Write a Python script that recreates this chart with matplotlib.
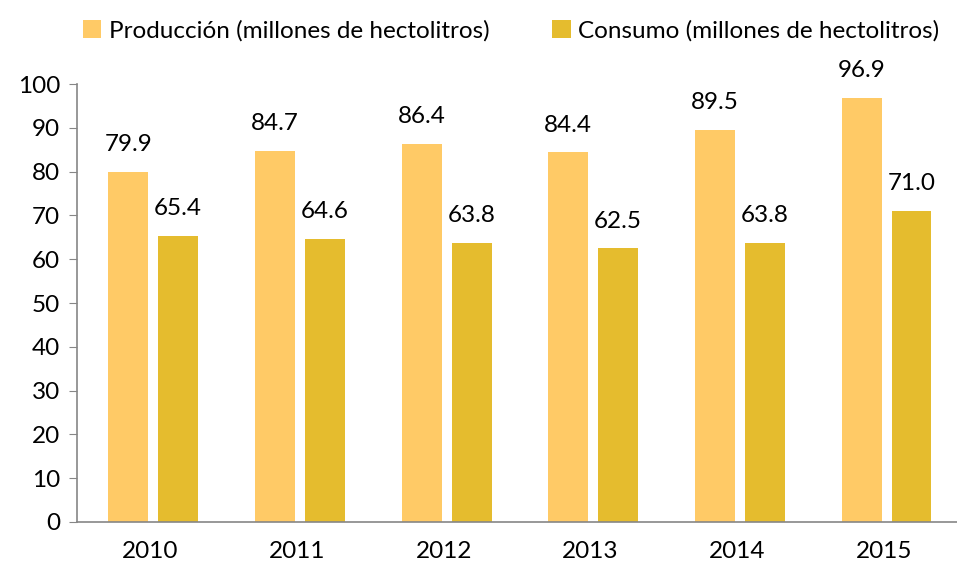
import numpy as np
import matplotlib
matplotlib.use('Agg')
import matplotlib.pyplot as plt

years = ['2010', '2011', '2012', '2013', '2014', '2015']
produccion = [79.9, 84.7, 86.4, 84.4, 89.5, 96.9]
consumo = [65.4, 64.6, 63.8, 62.5, 63.8, 71.0]

plt.rcParams['font.family'] = ['Lato', 'DejaVu Sans']

fig = plt.figure(figsize=(9.57, 5.68), dpi=100)
ax = fig.add_axes([0.0805, 0.081, 0.9195, 0.771])

x = np.arange(len(years))
w = 0.272
b1 = ax.bar(x - 0.17 + 0.02, produccion, w, color='#FFCA66', label='Producción (millones de hectolitros)')
b2 = ax.bar(x + 0.17 + 0.02, consumo, w, color='#E5BC2E', label='Consumo (millones de hectolitros)')

for bars, vals in ((b1, produccion), (b2, consumo)):
    for r, v in zip(bars, vals):
        ax.text(r.get_x() + r.get_width() / 2, v + 3.8, f'{v:.1f}',
                ha='center', va='bottom', fontsize=17.5)

ax.set_xlim(-0.5, len(years) - 0.5)
ax.set_ylim(0, 100)
ax.set_yticks(range(0, 101, 10))
ax.set_xticks(x)
ax.set_xticklabels(years)
ax.tick_params(axis='y', length=6, color='#868686', labelsize=17.5, pad=6)
ax.tick_params(axis='x', length=0, labelsize=17.5, pad=14)
for s in ('top', 'right'):
    ax.spines[s].set_visible(False)
for s in ('left', 'bottom'):
    ax.spines[s].set_color('#868686')
    ax.spines[s].set_linewidth(1.2)

fig.legend(loc='upper left', bbox_to_anchor=(0.064, 1.004), ncol=2, frameon=False,
           fontsize=17.5, handlelength=0.75, handleheight=0.75, handletextpad=0.3,
           columnspacing=2.6)

fig.savefig('out.png', dpi=100)
